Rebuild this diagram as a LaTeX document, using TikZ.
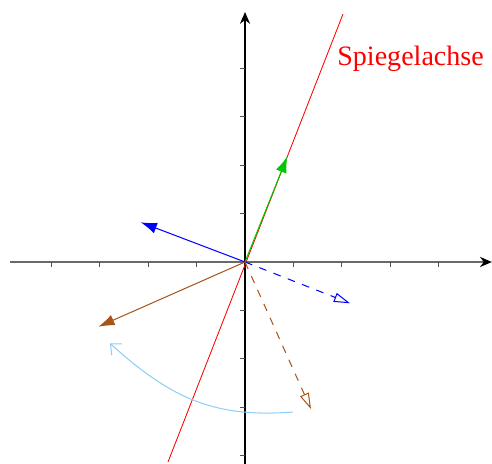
\documentclass[tikz,border=0pt]{standalone}
\usepackage{fontspec}
\setmainfont{Liberation Serif}
\usetikzlibrary{arrows.meta}
\definecolor{vbrown}{RGB}{168,84,24}
\definecolor{vgreen}{RGB}{0,200,0}
\definecolor{arcblue}{RGB}{140,205,250}
\definecolor{axgray}{RGB}{105,105,105}
\definecolor{tickgray}{RGB}{80,80,80}
\tikzset{
  axisline/.style={line width=0.85pt},
  tickmark/.style={tickgray, line width=0.7pt},
  vec/.style={line width=0.6pt, -{Latex[length=9.5pt,width=6.5pt]}},
  mirrored/.style={line width=0.6pt, dash pattern=on 4.5pt off 4.5pt, -{Triangle[open,length=9.5pt,width=5.5pt]}}
}
\begin{document}
\begin{tikzpicture}[x=1cm,y=1cm]
\useasboundingbox (-5.062,-4.153) rectangle (5.103,5.413);
% axes
\coordinate (xl) at (-4.855,0);
\coordinate (xr) at (5.10,0);
\coordinate (yb) at (0,-4.17);
\coordinate (yt) at (0,5.165);
\coordinate (O) at (0,0);
\draw[axisline, axgray, -{Stealth[length=7pt,width=6pt,black]}] (xl) -- (xr);
\draw[axisline, black, -{Stealth[length=7pt,width=6pt]}] (yb) -- (yt);
\foreach \i in {-4,-3,-2,-1,1,2,3,4} {
  \draw[tickmark] (\i,0) -- (\i,-0.11);
  \draw[tickmark] (0,\i) -- (-0.11,\i);
}
% mirror axis
\coordinate (mb) at (-1.591,-4.132);
\coordinate (mt) at (2.025,5.124);
\draw[red, line width=0.5pt] (mb) -- (mt);
\node[red, anchor=base west, inner sep=0pt, font=\fontsize{16.5}{19}\selectfont] (lab) at (1.90,4.05) {Spiegelachse};
% vectors
\coordinate (g) at (0.874,2.18);
\coordinate (b) at (-2.155,0.82);
\coordinate (bm) at (2.17,-0.853);
\coordinate (r) at (-3.03,-1.337);
\coordinate (rm) at (1.364,-3.04);
\draw[vec, vgreen] (O) -- (g);
\draw[vec, blue] (O) -- (b);
\draw[vec, vbrown] (O) -- (r);
\draw[mirrored, blue] (O) -- (bm);
\draw[mirrored, vbrown] (O) -- (rm);
% rotation arc
\coordinate (as) at (0.99,-3.10);
\coordinate (ae) at (-2.79,-1.68);
\draw[arcblue, line width=0.6pt, -{Straight Barb[length=5pt,width=9pt]}] (as) .. controls (-0.6,-3.22) and (-1.5,-2.85) .. (ae);
\end{tikzpicture}
\end{document}
